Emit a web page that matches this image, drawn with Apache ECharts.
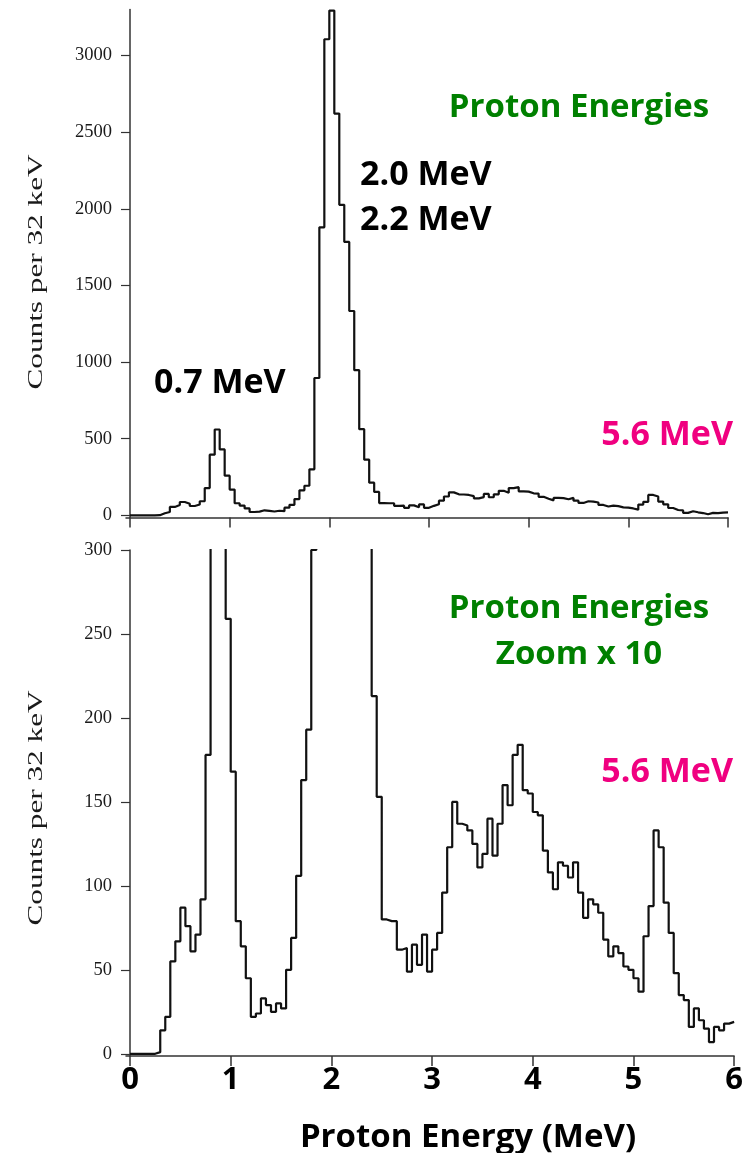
<!DOCTYPE html>
<html>
<head>
<meta charset="utf-8">
<script src="https://cdn.jsdelivr.net/npm/echarts@6/dist/echarts.min.js"></script>
<style>
html,body{margin:0;padding:0;background:#fff;}
#chart{width:746px;height:1153px;}
</style>
</head>
<body>
<div id="chart"></div>
<script>
// Histogram bin width (MeV) and counts per bin, bins starting at 0.00 MeV
const binWidth = 0.05;
const counts = [
  0, 0, 0, 0, 0, 1, 14, 22, 55, 67,           // 0.00 - 0.45
  87, 76, 61, 71, 92, 178, 396, 560, 430, 259, // 0.50 - 0.95
  168, 79, 64, 45, 22, 24, 33, 29, 25, 30,     // 1.00 - 1.45
  27, 50, 69, 106, 163, 193, 300, 896, 1879, 3106, // 1.50 - 1.95
  3293, 2621, 2026, 1784, 1333, 947, 562, 363, 213, 153, // 2.00 - 2.45
  80, 79, 79, 62, 63, 49, 65, 53, 71, 49,      // 2.50 - 2.95
  62, 72, 96, 123, 150, 137, 136, 133, 125, 111, // 3.00 - 3.45
  119, 140, 118, 137, 160, 148, 178, 184, 157, 155, // 3.50 - 3.95
  144, 142, 121, 108, 98, 114, 112, 105, 114, 96,  // 4.00 - 4.45
  81, 92, 89, 84, 68, 58, 64, 60, 52, 50,      // 4.50 - 4.95
  45, 37, 70, 88, 133, 123, 90, 72, 48, 35,    // 5.00 - 5.45
  32, 16, 27, 20, 15, 7, 16, 14, 18, 19        // 5.50 - 5.95
];
const xTicks = [0, 1, 2, 3, 4, 5, 6];
const topYTicks = [0, 500, 1000, 1500, 2000, 2500, 3000];
const bottomYTicks = [0, 50, 100, 150, 200, 250, 300];
const xTitle = 'Proton Energy (MeV)';
const yTitle = 'Counts per 32 keV';

function stepData() {
  const d = counts.map((v, i) => [+(i * binWidth).toFixed(3), v]);
  d.push([+(counts.length * binWidth).toFixed(3), counts[counts.length - 1]]);
  return d;
}

const axisColor = '#333';
const serif = '"Liberation Serif", "Times New Roman", serif';
const sans = '"Open Sans", "Noto Sans", sans-serif';

function xAxisCfg(gridIndex, showLabels) {
  return {
    type: 'value', gridIndex: gridIndex, min: -0.04, max: 6,
    axisLine: { show: true, onZero: false, lineStyle: { color: axisColor, width: 1.5 } },
    axisTick: { show: true, customValues: xTicks, length: 10, lineStyle: { color: axisColor, width: 1.5 } },
    axisLabel: {
      show: showLabels, customValues: xTicks, margin: 9,
      formatter: v => String(v),
      fontFamily: sans, fontWeight: 'bold', fontSize: 31, color: '#000'
    },
    splitLine: { show: false }
  };
}
function yAxisCfg(gridIndex, min, max, ticks) {
  return {
    type: 'value', gridIndex: gridIndex, min: min, max: max,
    axisLine: { show: true, lineStyle: { color: axisColor, width: 1.5 } },
    axisTick: { show: true, customValues: ticks, length: 9, lineStyle: { color: axisColor, width: 1.2 } },
    axisLabel: { show: true, customValues: ticks, margin: 14, formatter: v => String(v),
      fontFamily: serif, fontSize: 18.5, color: '#1a1a1a' },
    splitLine: { show: false }
  };
}

const chart = echarts.init(document.getElementById('chart'), null, { renderer: 'canvas' });
const lineStyle = { color: '#111', width: 2.2 };
const option = {
  animation: false,
  backgroundColor: '#fff',
  grid: [
    { left: 126, top: 9.5, width: 602, height: 508 },
    { left: 126, top: 550, width: 614, height: 506 }
  ],
  xAxis: [xAxisCfg(0, false), xAxisCfg(1, true)],
  yAxis: [yAxisCfg(0, -14, 3300, topYTicks), yAxisCfg(1, -1.3, 300, bottomYTicks)],
  series: [
    { type: 'line', xAxisIndex: 0, yAxisIndex: 0, step: 'end', symbol: 'none', clip: true,
      lineStyle: lineStyle, data: stepData() },
    { type: 'line', xAxisIndex: 1, yAxisIndex: 1, step: 'end', symbol: 'none', clip: true,
      lineStyle: lineStyle, data: stepData() }
  ],
  graphic: [
    { type: 'text', x: 36, y: 272, rotation: Math.PI / 2, scaleX: 1.42,
      style: { text: yTitle, font: '22px ' + serif, fill: '#1a1a1a', textAlign: 'center', textVerticalAlign: 'middle' } },
    { type: 'text', x: 36, y: 808, rotation: Math.PI / 2, scaleX: 1.42,
      style: { text: yTitle, font: '22px ' + serif, fill: '#1a1a1a', textAlign: 'center', textVerticalAlign: 'middle' } },
    { type: 'text', x: 579, y: 108,
      style: { text: 'Proton Energies', font: 'bold 33px ' + sans, fill: '#008000', textAlign: 'center', textVerticalAlign: 'middle' } },
    { type: 'text', x: 360, y: 175,
      style: { text: '2.0 MeV', font: 'bold 34px ' + sans, fill: '#000', textAlign: 'left', textVerticalAlign: 'middle' } },
    { type: 'text', x: 360, y: 220,
      style: { text: '2.2 MeV', font: 'bold 34px ' + sans, fill: '#000', textAlign: 'left', textVerticalAlign: 'middle' } },
    { type: 'text', x: 154, y: 383,
      style: { text: '0.7 MeV', font: 'bold 34px ' + sans, fill: '#000', textAlign: 'left', textVerticalAlign: 'middle' } },
    { type: 'text', x: 733, y: 435,
      style: { text: '5.6 MeV', font: 'bold 34px ' + sans, fill: '#f00080', textAlign: 'right', textVerticalAlign: 'middle' } },
    { type: 'text', x: 579, y: 609,
      style: { text: 'Proton Energies', font: 'bold 33px ' + sans, fill: '#008000', textAlign: 'center', textVerticalAlign: 'middle' } },
    { type: 'text', x: 579, y: 655,
      style: { text: 'Zoom x 10', font: 'bold 33px ' + sans, fill: '#008000', textAlign: 'center', textVerticalAlign: 'middle' } },
    { type: 'text', x: 733, y: 772,
      style: { text: '5.6 MeV', font: 'bold 34px ' + sans, fill: '#f00080', textAlign: 'right', textVerticalAlign: 'middle' } },
    { type: 'text', x: 468, y: 1138,
      style: { text: xTitle, font: 'bold 33px ' + sans, fill: '#000', textAlign: 'center', textVerticalAlign: 'middle' } }
  ]
};
chart.setOption(option);
</script>
</body>
</html>
